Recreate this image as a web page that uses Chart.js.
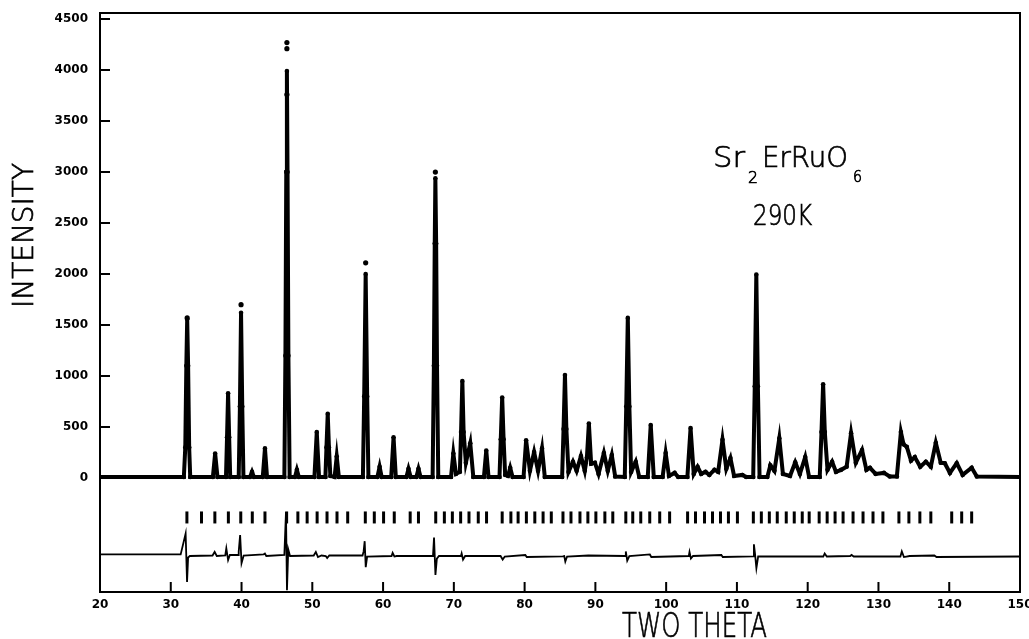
<!DOCTYPE html>
<html>
<head>
<meta charset="utf-8">
<title>Sr2ErRuO6 290K</title>
<script src="https://cdn.jsdelivr.net/npm/chart.js@4.4.1/dist/chart.umd.min.js"></script>
<style>
  html, body { margin: 0; padding: 0; background: #fff; }
  #wrap { width: 1029px; height: 639px; }
</style>
</head>
<body>
<div id="wrap"><canvas id="rietveld" width="1029" height="639"></canvas></div>
<script>
// profile: two theta (deg) and intensity (counts)
const twoTheta = [
    20, 31.85, 32.05, 32.2, 32.32, 32.45, 32.6, 32.75,
    35.95, 36.27, 36.6, 37.8, 37.95, 38.1, 38.25, 38.4,
    39.6, 39.77, 39.93, 40.1, 40.27, 41.2, 41.48, 41.75, 43.0, 43.31, 43.6,
    46.05, 46.2, 46.32, 46.41, 46.5, 46.62, 46.8, 47.55, 47.82, 48.1,
    50.3, 50.63, 50.95, 51.85, 52.0, 52.18, 52.35, 52.55, 53.15, 53.45, 53.75,
    57.15, 57.33, 57.54, 57.75, 57.93, 59.2, 59.51, 59.8, 61.15, 61.48, 61.8,
    63.3, 63.59, 63.9, 64.7, 65.0, 65.3,
    67.0, 67.18, 67.3, 67.39, 67.5, 67.62, 67.8,
    69.6, 69.93, 70.3, 70.85, 71.02, 71.2, 71.38, 71.7, 72.32, 72.75,
    74.25, 74.58, 74.9, 76.45, 76.63, 76.83, 77.03, 77.25, 77.65, 77.96, 78.3,
    79.85, 80.21, 80.75, 81.34, 81.9, 82.46, 82.85,
    85.3, 85.5, 85.7, 85.9, 86.2, 86.83, 87.35, 87.96, 88.5, 88.8, 89.08, 89.4, 89.93, 90.45,
    91.2, 91.75, 92.32, 92.8,
    94.15, 94.36, 94.58, 94.8, 95.05, 95.7, 96.2, 97.4, 97.82, 98.25,
    99.5, 99.93, 100.4, 101.2, 101.7,
    103.0, 103.45, 103.9, 104.44, 104.95, 105.56, 106.1, 106.83, 107.35, 107.96, 108.5, 109.08, 109.6,
    110.77, 111.3, 112.3, 112.52, 112.74, 112.96, 113.2,
    114.3, 114.72, 115.3, 115.99, 116.5, 117.5, 118.24, 118.9, 119.65, 120.2,
    121.7, 121.95, 122.18, 122.42, 122.8, 123.45, 124.0, 124.72, 125.5, 126.13, 126.8, 127.68,
    128.3, 128.8, 129.6, 130.77, 131.6,
    132.6, 133.17, 133.55, 134.01, 134.6, 135.14, 135.9, 136.69, 137.4, 138.1, 138.8, 139.37,
    140.1, 141.06, 141.9, 143.17, 143.9, 150
];
const intensity = [
    10, 10, 300, 1100, 1560, 1100, 300, 10,
    10, 240, 10, 10, 400, 830, 400, 10,
    10, 700, 1620, 700, 10, 10, 60, 10, 10, 290, 10,
    10, 1200, 3000, 3990, 3000, 1200, 10, 10, 80, 10,
    10, 450, 10, 10, 300, 630, 300, 20, 10, 210, 10,
    10, 800, 2000, 800, 10, 10, 110, 10, 10, 400, 10,
    10, 90, 10, 10, 90, 10,
    10, 1100, 2300, 2940, 2300, 1100, 10,
    10, 240, 40, 60, 450, 950, 450, 150, 340, 10,
    10, 270, 10, 10, 380, 790, 380, 30, 20, 100, 10,
    10, 370, 70, 255, 70, 290, 10,
    10, 480, 1010, 480, 60, 160, 70, 215, 70, 200, 535, 140, 150, 40,
    245, 70, 225, 15,
    10, 700, 1570, 700, 60, 160, 10, 10, 520, 10,
    10, 245, 20, 50, 10,
    10, 490, 40, 110, 40, 60, 30, 80, 60, 375, 90, 195, 20,
    30, 10, 10, 900, 1995, 900, 10,
    10, 125, 70, 390, 40, 20, 155, 40, 205, 10,
    10, 450, 920, 450, 80, 160, 60, 80, 110, 440, 150, 275,
    80, 100, 40, 50, 15,
    15, 450, 330, 305, 170, 205, 110, 160, 110, 345, 150, 145,
    50, 145, 30, 100, 15, 10
];

// observed points that sit above the calculated peaks
const obsTopTheta = [32.32, 39.93, 46.41, 46.41, 46.41, 57.54, 67.39];
const obsTopValue = [1570, 1700, 4270, 4210, 3760, 2110, 3000];

// allowed reflection positions (tick row)
const reflections = [
    32.28, 34.34, 36.23, 38.14, 39.89, 41.52, 43.31,
    46.37, 47.96, 49.27, 50.68, 52.08, 53.49, 55.0,
    57.49, 58.76, 60.07, 61.58, 63.83, 65.0,
    67.44, 68.66, 69.79, 70.96, 72.14, 73.45, 74.62,
    76.83, 78.06, 79.08, 80.25, 81.44, 82.61, 83.77,
    85.42, 86.55, 87.82, 88.94, 90.07, 91.34, 92.46,
    94.30, 95.28, 96.41, 97.68, 99.09, 100.49,
    103.03, 104.15, 105.42, 106.55, 107.68, 108.80, 110.07,
    112.32, 113.45, 114.58, 115.70, 116.97, 118.10, 119.23, 120.21,
    121.62, 122.75, 123.87, 125.0, 126.41, 127.82, 129.23, 130.63,
    132.89, 134.30, 135.85, 137.4, 140.35, 141.76, 143.17
];
const reflectionLevel = -387;

// difference curve (obs - calc), shifted down
const diffTheta = [
    20, 31.4, 32.1, 32.3, 32.45, 32.7, 35.9, 36.2, 36.5,
    37.7, 37.85, 38.1, 38.35, 39.5, 39.6, 39.8, 40.0, 40.3,
    43.1, 43.3, 43.5, 46.05, 46.28, 46.42, 46.6, 46.85,
    50.2, 50.5, 50.8, 51.3, 51.9, 52.1, 52.4,
    57.1, 57.25, 57.4, 57.55, 57.75, 61.2, 61.35, 61.6, 61.9,
    67.05, 67.2, 67.4, 67.6, 67.9, 71.0, 71.1, 71.3, 71.6,
    76.6, 76.9, 77.2, 80.1, 80.3, 85.4, 85.6, 85.75, 86.0, 89.0,
    94.2, 94.3, 94.5, 94.8, 97.7, 97.9, 103.2, 103.3, 103.5, 103.8,
    107.8, 108.0, 112.3, 112.4, 112.55, 112.75, 113.0,
    122.2, 122.4, 122.7, 126.0, 126.2, 126.5,
    133.1, 133.3, 133.6, 134.4, 137.9, 138.2, 150
];
const diffValue = [
    -750, -750, -545, -1020, -780, -765, -760, -725, -765,
    -760, -690, -805, -755, -755, -720, -560, -835, -760,
    -750, -740, -765, -755, -335, -1100, -700, -765,
    -760, -725, -775, -760, -765, -785, -760,
    -760, -720, -620, -875, -770, -765, -735, -770, -765,
    -765, -585, -950, -790, -765, -765, -740, -800, -765,
    -765, -800, -770, -755, -775, -768, -765, -820, -770, -760,
    -765, -720, -810, -765, -750, -775, -765, -725, -790, -765,
    -755, -775, -768, -650, -740, -885, -770,
    -770, -740, -770, -765, -755, -770,
    -770, -720, -775, -765, -760, -775, -770
];

// axis ticks
const xTickValues = [20, 30, 40, 50, 60, 70, 80, 90, 100, 110, 120, 130, 140, 150];
const yTickValues = [0, 500, 1000, 1500, 2000, 2500, 3000, 3500, 4000, 4500];

function toPoints(xs, ys) {
    return xs.map((x, i) => ({ x: x, y: ys[i] }));
}

const plotFont = "'DejaVu Sans'";

// draw text squeezed/stretched to a given width
function drawFitted(ctx, text, x, y, size, width) {
    ctx.font = '200 ' + size + 'px ' + plotFont;
    const w = ctx.measureText(text).width;
    ctx.save();
    ctx.translate(x, y);
    ctx.scale(width / w, 1);
    ctx.fillText(text, 0, 0);
    ctx.lineWidth = 0.7;
    ctx.strokeText(text, 0, 0);
    ctx.restore();
}

// no side padding for axes, so the frame spans exactly the plot range
function noScalePadding(scale) {
    scale.paddingLeft = 0;
    scale.paddingRight = 0;
    scale.paddingTop = 0;
    scale.paddingBottom = 0;
}

// frame, inward ticks and the free text
const frameAndText = {
    id: 'frameAndText',
    afterDraw(chart) {
        const ctx = chart.ctx;
        const area = chart.chartArea;
        const xs = chart.scales.x;
        const ys = chart.scales.y;

        ctx.save();
        ctx.strokeStyle = '#000';
        ctx.lineWidth = 2;
        ctx.strokeRect(area.left, area.top, area.right - area.left, area.bottom - area.top);

        ctx.beginPath();
        yTickValues.forEach(v => {
            const py = ys.getPixelForValue(v);
            ctx.moveTo(area.left, py);
            ctx.lineTo(area.left + 10, py);
        });
        xTickValues.forEach(v => {
            const px = xs.getPixelForValue(v);
            ctx.moveTo(px, area.bottom);
            ctx.lineTo(px, area.bottom - 10);
        });
        ctx.stroke();

        ctx.fillStyle = '#000';
        ctx.textAlign = 'left';
        ctx.textBaseline = 'alphabetic';

        drawFitted(ctx, 'Sr', 713, 167, 28, 32);
        drawFitted(ctx, '2', 748, 183, 16, 10);
        drawFitted(ctx, 'ErRuO', 762, 167, 28, 86);
        drawFitted(ctx, '6', 853, 182, 16, 9);
        drawFitted(ctx, '290K', 753, 225, 28, 59);
        drawFitted(ctx, 'TWO THETA', 622, 637, 33, 145);

        ctx.save();
        ctx.translate(33, 308);
        ctx.rotate(-Math.PI / 2);
        drawFitted(ctx, 'INTENSITY', 0, 0, 28, 145);
        ctx.restore();

        ctx.restore();
    }
};

const tickFont = { family: plotFont, size: 12, weight: 'bold' };

new Chart(document.getElementById('rietveld'), {
    type: 'scatter',
    data: {
        datasets: [
            {
                label: 'observed',
                data: toPoints(twoTheta, intensity),
                showLine: true,
                borderColor: '#000',
                backgroundColor: '#000',
                borderWidth: 4,
                pointRadius: 2.3,
                pointBorderWidth: 0
            },
            {
                label: 'observed top',
                data: toPoints(obsTopTheta, obsTopValue),
                showLine: false,
                backgroundColor: '#000',
                borderColor: '#000',
                pointRadius: 2.6,
                pointBorderWidth: 0
            },
            {
                label: 'reflections',
                data: reflections.map(t => ({ x: t, y: reflectionLevel })),
                showLine: false,
                pointStyle: 'line',
                rotation: 90,
                pointRadius: 6,
                borderColor: '#000',
                borderWidth: 3
            },
            {
                label: 'difference',
                data: toPoints(diffTheta, diffValue),
                showLine: true,
                borderColor: '#000',
                borderWidth: 1.8,
                pointRadius: 0
            }
        ]
    },
    options: {
        responsive: false,
        devicePixelRatio: 1,
        animation: false,
        layout: { padding: { top: 13, right: 6, left: 0, bottom: 0 } },
        plugins: {
            legend: { display: false },
            tooltip: { enabled: false }
        },
        scales: {
            x: {
                type: 'linear',
                min: 20,
                max: 150,
                grid: { display: false, drawTicks: false },
                border: { display: false },
                afterBuildTicks: scale => { scale.ticks = xTickValues.map(v => ({ value: v })); },
                afterFit: scale => { scale.height = 47; noScalePadding(scale); },
                ticks: {
                    color: '#000',
                    font: tickFont,
                    padding: 6,
                    maxRotation: 0,
                    autoSkip: false,
                    callback: v => String(v)
                }
            },
            y: {
                type: 'linear',
                min: -1118,
                max: 4560,
                grid: { display: false, drawTicks: false },
                border: { display: false },
                afterBuildTicks: scale => { scale.ticks = yTickValues.map(v => ({ value: v })); },
                afterFit: scale => { scale.width = 100; noScalePadding(scale); },
                ticks: {
                    color: '#000',
                    font: tickFont,
                    padding: 12,
                    autoSkip: false,
                    callback: v => String(v)
                }
            }
        }
    },
    plugins: [frameAndText]
});
</script>
</body>
</html>
